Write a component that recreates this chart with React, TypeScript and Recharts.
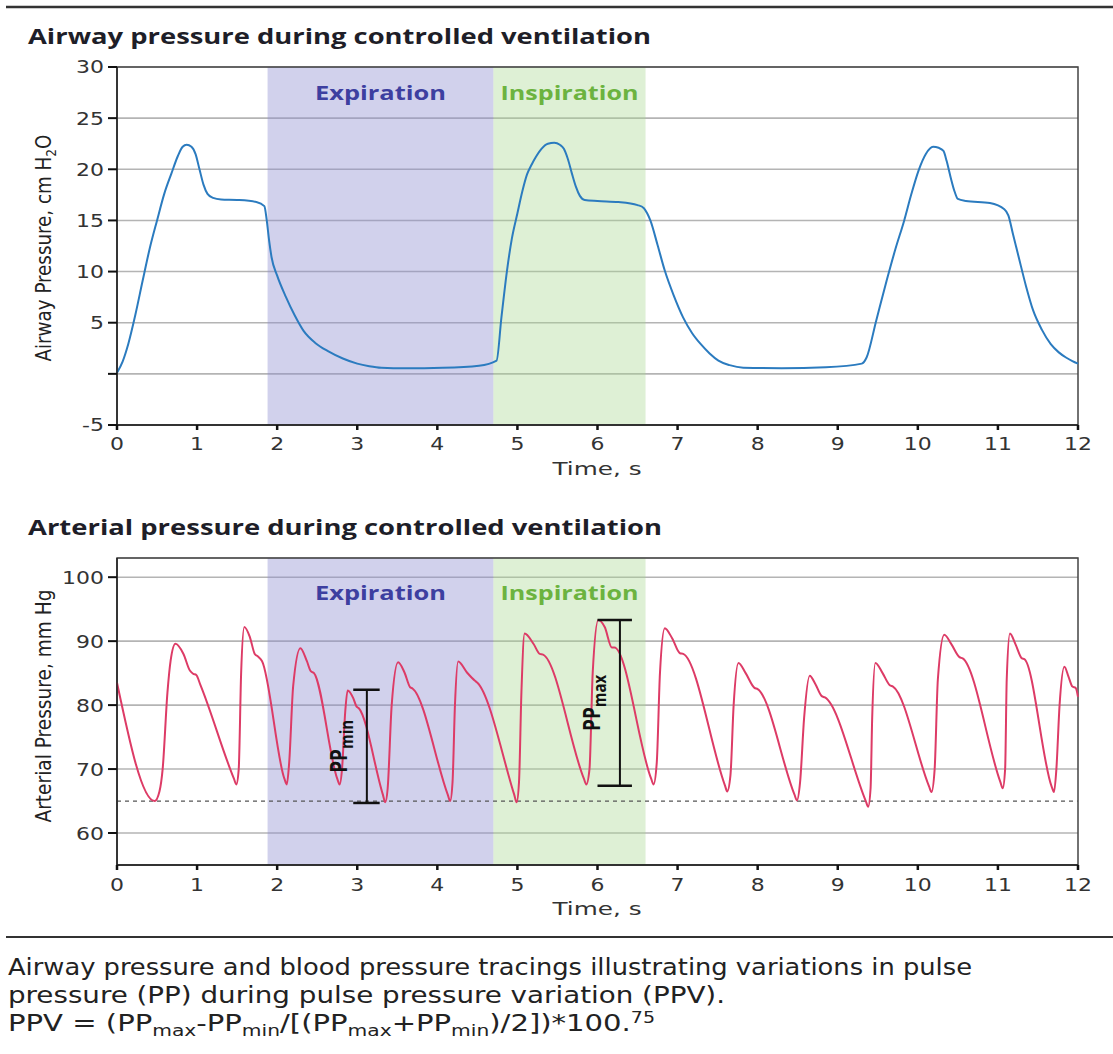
import React from 'react';
import {
  LineChart, Line, XAxis, YAxis, CartesianGrid, ReferenceArea, ReferenceLine,
} from 'recharts';

// ---------- data ----------
const timeTicks = [0, 1, 2, 3, 4, 5, 6, 7, 8, 9, 10, 11, 12];
const airwayTicks = [-5, 0, 5, 10, 15, 20, 25, 30];
const arterialTicks = [60, 70, 80, 90, 100];

const expirationSpan = [1.88, 4.7];
const inspirationSpan = [4.7, 6.6];

const airwayT = [
  0, 0.07, 0.14, 0.23, 0.32, 0.41, 0.5, 0.59, 0.68, 0.76, 0.82, 0.87, 0.93, 0.98,
  1.03, 1.08, 1.13, 1.2, 1.3, 1.5, 1.74, 1.84,
  1.87, 1.9, 1.93, 2.0, 2.11, 2.22, 2.33, 2.48, 2.64, 2.82, 3.0, 3.15, 3.3, 3.6, 4.07, 4.52, 4.74,
  4.8, 4.87, 4.93, 5.0, 5.06, 5.12, 5.18, 5.23, 5.3, 5.38, 5.46, 5.53, 5.58, 5.63, 5.68,
  5.73, 5.78, 5.84, 6.0, 6.26, 6.5, 6.58,
  6.62, 6.66, 6.75, 6.84, 6.95, 7.07, 7.18, 7.29, 7.4, 7.51, 7.65, 7.82, 8.3, 8.85, 9.3, 9.36,
  9.48, 9.61, 9.72, 9.83, 9.92, 10.01, 10.1, 10.19, 10.26, 10.32, 10.36, 10.41, 10.46,
  10.5, 10.6, 10.9, 11.08,
  11.13, 11.19, 11.26, 11.35, 11.44, 11.55, 11.66, 11.76, 11.85, 11.93, 12.0,
];
const airwayP = [
  0.1, 1.2, 2.9, 5.8, 9.1, 12.3, 15, 17.6, 19.6, 21.3, 22.2, 22.4, 22.2, 21.5,
  20.0, 18.5, 17.6, 17.2, 17.05, 17.0, 16.8, 16.4,
  15.0, 13.0, 11.4, 9.6, 7.5, 5.7, 4.2, 3.0, 2.2, 1.5, 1.0, 0.75, 0.6, 0.55, 0.6, 0.8, 1.3,
  5.5, 10.1, 13.2, 15.7, 17.8, 19.5, 20.5, 21.2, 22.0, 22.5, 22.6, 22.4, 22.0, 21.0, 19.6,
  18.3, 17.4, 17.0, 16.9, 16.8, 16.5, 16.2,
  15.7, 15.0, 12.6, 10.1, 7.7, 5.5, 4.0, 2.9, 2.0, 1.3, 0.85, 0.6, 0.55, 0.65, 1.0, 1.6,
  5.2, 9.1, 12.2, 15, 17.6, 19.9, 21.5, 22.2, 22.1, 21.8, 20.8, 19.2, 17.8,
  17.1, 16.9, 16.7, 16.1,
  15.5, 13.6, 11.4, 8.6, 6.2, 4.3, 2.9, 2.1, 1.6, 1.25, 1.0,
];

const arterialT = [
  0.0, 0.47,
  0.53, 0.57, 0.63, 0.67, 0.73, 0.83, 0.91, 0.95, 0.99, 1.04, 1.46, 1.49,
  1.52, 1.55, 1.59, 1.66, 1.72, 1.76, 1.81, 2.09, 2.12,
  2.15, 2.2, 2.29, 2.37, 2.42, 2.46, 2.75, 2.78,
  2.81, 2.85, 2.88, 2.95, 2.99, 3.02, 3.32, 3.35,
  3.38, 3.43, 3.51, 3.59, 3.66, 3.69, 4.13, 4.16,
  4.19, 4.22, 4.26, 4.37, 4.47, 4.5, 4.96, 4.99,
  5.02, 5.05, 5.09, 5.2, 5.28, 5.32, 5.83, 5.86,
  5.9, 5.94, 6.01, 6.09, 6.18, 6.21, 6.67, 6.7,
  6.74, 6.78, 6.84, 6.93, 7.03, 7.07, 7.59, 7.62,
  7.66, 7.7, 7.76, 7.85, 7.96, 8.0, 8.46, 8.49,
  8.53, 8.58, 8.65, 8.72, 8.8, 8.84, 9.35, 9.38,
  9.41, 9.43, 9.47, 9.56, 9.65, 9.69, 10.14, 10.17,
  10.21, 10.25, 10.33, 10.42, 10.52, 10.56, 11.03, 11.06,
  11.09, 11.11, 11.15, 11.22, 11.3, 11.33, 11.67, 11.7,
  11.73, 11.77, 11.83, 11.88, 11.93, 11.97, 12.0,
];
const arterialP = [
  83.5, 65.0,
  66.5, 70, 82, 87, 89.6, 88.0, 85.4, 84.9, 84.7, 83.2, 68.5, 67.6,
  70, 85, 92.2, 90.6, 88.0, 87.6, 86.9, 68.5, 67.6,
  71, 83, 88.9, 86.9, 85.3, 85.0, 68.5, 67.6,
  70, 79, 82.3, 81.1, 79.8, 79.5, 66, 64.8,
  67, 80, 86.7, 85.1, 82.8, 82.6, 66, 65.0,
  68, 80, 86.8, 85.1, 83.8, 83.5, 66, 64.8,
  68, 82, 91.2, 89.6, 88.0, 87.9, 68.5, 67.6,
  70, 85, 93.3, 92.2, 89.0, 89.0, 68.5, 67.6,
  71, 85, 92.0, 90.5, 88.1, 88.0, 67.5, 66.5,
  69, 80, 86.6, 85, 82.7, 82.5, 66, 65.1,
  68, 78, 84.6, 83.3, 81.4, 81.2, 65, 64.1,
  67, 78, 86.6, 85.0, 83.1, 82.9, 67.3, 66.4,
  70, 84, 91.0, 89.5, 87.5, 87.3, 68, 67.0,
  70, 84, 91.2, 89.5, 87.3, 87.2, 67.3, 66.4,
  70, 80, 86.0, 84.5, 82.9, 82.7, 81.3,
];

const arterialBaseline = 65;
// [time, low, high, capFrom, capTo]
const ppMinBar = [3.12, 64.7, 82.4, 2.95, 3.28];
const ppMaxBar = [6.28, 67.4, 93.3, 6.0, 6.43];

const airwayData = airwayT.map((t, i) => ({ t, p: airwayP[i] }));
const arterialData = arterialT.map((t, i) => ({ t, p: arterialP[i] }));

// ---------- styles ----------
const TICK_FONT = "'DejaVu Sans', 'Open Sans', sans-serif";
const TITLE_FONT = "'Open Sans', 'DejaVu Sans', sans-serif";
const NARROW_FONT = "'Liberation Sans Narrow', 'DejaVu Sans Condensed', 'Roboto', sans-serif";
const EXP_FILL = '#8c8cd0';
const INS_FILL = '#a8d890';

const XTick = (props: any) => {
  const { x, y, payload } = props;
  return (
    <g transform={`translate(${x},${y}) scale(1.22,1)`}>
      <text x={0} y={0} dy="0.71em" textAnchor="middle" fontFamily={TICK_FONT} fontSize={18} fill="#333">
        {payload.value}
      </text>
    </g>
  );
};

const makeYTick = (hideZero: boolean) => (props: any) => {
  const { x, y, payload } = props;
  if (hideZero && payload.value === 0) return <g />;
  return (
    <g transform={`translate(${x},${y}) scale(1.22,1)`}>
      <text x={0} y={0} dy="0.36em" textAnchor="end" fontFamily={TICK_FONT} fontSize={18} fill="#333">
        {payload.value}
      </text>
    </g>
  );
};

const phaseLabel = (text: string, color: string, len: number, off: number) => (props: any) => {
  const vb = props.viewBox || {};
  const cx = vb.x + vb.width / 2;
  return (
    <text x={cx} y={vb.y + off} textAnchor="middle" fontFamily={TITLE_FONT} fontWeight={700}
      fontSize={19} fill={color} textLength={len} lengthAdjust="spacingAndGlyphs">
      {text}
    </text>
  );
};

const ppLabel = (sub: string) => (props: any) => {
  const vb = props.viewBox || {};
  const x = vb.x - 20;
  const cy = vb.y + vb.height / 2;
  return (
    <g transform={`translate(${x},${cy}) scale(1.2,1) rotate(-90)`}>
      <text x={0} y={0} textAnchor="middle" fontFamily={TITLE_FONT} fontWeight={700} fontSize={19} fill="#111">
        PP<tspan dy={5} fontSize={15}>{sub}</tspan>
      </text>
    </g>
  );
};

const Bracket = (bar: number[], sub: string) => [
  <ReferenceLine key={`v${sub}`} segment={[{ x: bar[0], y: bar[1] }, { x: bar[0], y: bar[2] }]}
    stroke="#111" strokeWidth={2} label={ppLabel(sub)} />,
  <ReferenceLine key={`t${sub}`} segment={[{ x: bar[3], y: bar[2] }, { x: bar[4], y: bar[2] }]}
    stroke="#111" strokeWidth={2.5} />,
  <ReferenceLine key={`b${sub}`} segment={[{ x: bar[3], y: bar[1] }, { x: bar[4], y: bar[1] }]}
    stroke="#111" strokeWidth={2.5} />,
];

export default function App() {
  return (
    <div style={{ position: 'absolute', left: 0, top: 0, width: 1113, height: 1054, background: '#fff', overflow: 'hidden' }}>
      {/* Airway pressure chart */}
      <div style={{ position: 'absolute', left: 0, top: 0 }}>
        <LineChart width={1113} height={480} data={airwayData}
          margin={{ top: 67, right: 35, left: 57, bottom: 25 }}>
          <CartesianGrid vertical={false} stroke="#b4b4b4" strokeWidth={1.6} />
          <ReferenceArea x1={expirationSpan[0]} x2={expirationSpan[1]} y1={-5} y2={30}
            fill={EXP_FILL} fillOpacity={0.4} stroke="none"
            label={phaseLabel('Expiration', '#3d3fa0', 131, 33)} />
          <ReferenceArea x1={inspirationSpan[0]} x2={inspirationSpan[1]} y1={-5} y2={30}
            fill={INS_FILL} fillOpacity={0.38} stroke="none"
            label={phaseLabel('Inspiration', '#6cb33f', 138, 33)} />
          <ReferenceArea x1={0} x2={12} y1={-5} y2={30} fill="none" stroke="#444" strokeWidth={1.5} />
          <XAxis dataKey="t" type="number" domain={[0, 12]} ticks={timeTicks} height={30}
            axisLine={{ stroke: '#222', strokeWidth: 1.5 }} tickLine={{ stroke: '#111', strokeWidth: 2.5 }}
            tickSize={5} tickMargin={7} tick={<XTick />} interval={0} />
          <YAxis type="number" domain={[-5, 30]} ticks={airwayTicks} width={60}
            axisLine={{ stroke: '#222', strokeWidth: 1.5 }} tickLine={{ stroke: '#111', strokeWidth: 2 }}
            tickSize={9} tickMargin={4} tick={makeYTick(true)} interval={0} />
          <Line type="monotone" dataKey="p" stroke="#2b7bbf" strokeWidth={2} dot={false}
            isAnimationActive={false} />
        </LineChart>
      </div>

      {/* Arterial pressure chart */}
      <div style={{ position: 'absolute', left: 0, top: 500 }}>
        <LineChart width={1113} height={440} data={arterialData}
          margin={{ top: 58, right: 35, left: 57, bottom: 45 }}>
          <CartesianGrid vertical={false} stroke="#b4b4b4" strokeWidth={1.6} />
          <ReferenceArea x1={expirationSpan[0]} x2={expirationSpan[1]} y1={55} y2={103}
            fill={EXP_FILL} fillOpacity={0.4} stroke="none"
            label={phaseLabel('Expiration', '#3d3fa0', 131, 42)} />
          <ReferenceArea x1={inspirationSpan[0]} x2={inspirationSpan[1]} y1={55} y2={103}
            fill={INS_FILL} fillOpacity={0.38} stroke="none"
            label={phaseLabel('Inspiration', '#6cb33f', 138, 42)} />
          <ReferenceArea x1={0} x2={12} y1={55} y2={103} fill="none" stroke="#444" strokeWidth={1.5} />
          <ReferenceLine y={arterialBaseline} stroke="#555" strokeDasharray="4 4" strokeWidth={1.2} />
          <XAxis dataKey="t" type="number" domain={[0, 12]} ticks={timeTicks} height={30}
            axisLine={{ stroke: '#222', strokeWidth: 1.5 }} tickLine={{ stroke: '#111', strokeWidth: 2.5 }}
            tickSize={5} tickMargin={8} tick={<XTick />} interval={0} />
          <YAxis type="number" domain={[55, 103]} ticks={arterialTicks} width={60}
            axisLine={{ stroke: '#222', strokeWidth: 1.5 }} tickLine={{ stroke: '#111', strokeWidth: 2 }}
            tickSize={9} tickMargin={4} tick={makeYTick(false)} interval={0} />
          <Line type="monotone" dataKey="p" stroke="#dd3b66" strokeWidth={2} dot={false}
            isAnimationActive={false} />
          {Bracket(ppMinBar, 'min')}
          {Bracket(ppMaxBar, 'max')}
        </LineChart>
      </div>

      {/* Overlay text */}
      <svg width={1113} height={1054} style={{ position: 'absolute', left: 0, top: 0, pointerEvents: 'none' }}>
        <line x1={6} x2={1113} y1={7} y2={7} stroke="#333" strokeWidth={2.5} />
        <text x={28} y={44} fontFamily={TITLE_FONT} fontWeight={700} fontSize={21} fill="#1e1e28"
          textLength={623} lengthAdjust="spacingAndGlyphs">Airway pressure during controlled ventilation</text>
        <text x={28} y={535} fontFamily={TITLE_FONT} fontWeight={700} fontSize={21} fill="#1e1e28"
          textLength={634} lengthAdjust="spacingAndGlyphs">Arterial pressure during controlled ventilation</text>

        <g transform="translate(51,248) rotate(-90)">
          <text x={0} y={0} textAnchor="middle" fontFamily={NARROW_FONT} fontSize={21} fill="#222"
            textLength={227} lengthAdjust="spacingAndGlyphs">
            Airway Pressure, cm H<tspan dy={5} fontSize={14}>2</tspan><tspan dy={-5}>O</tspan>
          </text>
        </g>
        <g transform="translate(51,706) rotate(-90)">
          <text x={0} y={0} textAnchor="middle" fontFamily={NARROW_FONT} fontSize={21} fill="#222"
            textLength={233} lengthAdjust="spacingAndGlyphs">Arterial Pressure, mm Hg</text>
        </g>

        <text x={597} y={475} textAnchor="middle" fontFamily={TICK_FONT} fontSize={18} fill="#333"
          textLength={89} lengthAdjust="spacingAndGlyphs">Time, s</text>
        <text x={597} y={915} textAnchor="middle" fontFamily={TICK_FONT} fontSize={18} fill="#333"
          textLength={89} lengthAdjust="spacingAndGlyphs">Time, s</text>

        <line x1={6} x2={1113} y1={937} y2={937} stroke="#333" strokeWidth={2} />
        <text x={8} y={975} fontFamily={NARROW_FONT} fontSize={23} fill="#222"
          textLength={964} lengthAdjust="spacingAndGlyphs">
          Airway pressure and blood pressure tracings illustrating variations in pulse
        </text>
        <text x={8} y={1003} fontFamily={NARROW_FONT} fontSize={23} fill="#222"
          textLength={717} lengthAdjust="spacingAndGlyphs">
          pressure (PP) during pulse pressure variation (PPV).
        </text>
        <text x={8} y={1031} fontFamily={NARROW_FONT} fontSize={23} fill="#222"
          textLength={647} lengthAdjust="spacingAndGlyphs">
          PPV = (PP<tspan dy={5} fontSize={16}>max</tspan><tspan dy={-5}>-PP</tspan><tspan dy={5} fontSize={16}>min</tspan><tspan dy={-5}>/[(PP</tspan><tspan dy={5} fontSize={16}>max</tspan><tspan dy={-5}>+PP</tspan><tspan dy={5} fontSize={16}>min</tspan><tspan dy={-5}>)/2])*100.</tspan><tspan dy={-8} fontSize={15}>75</tspan>
        </text>
      </svg>
    </div>
  );
}
